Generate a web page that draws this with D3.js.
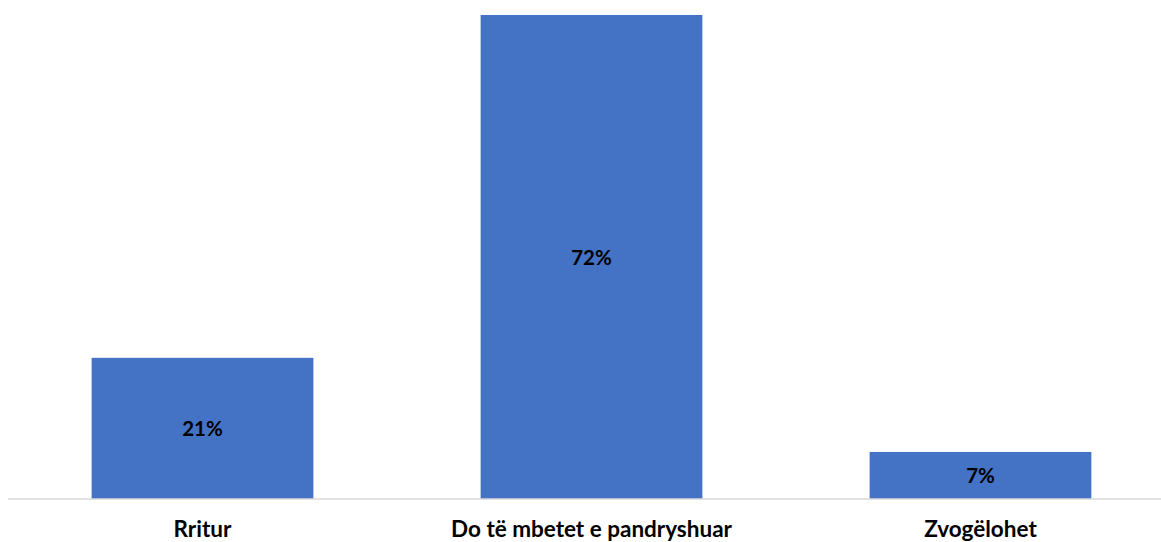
<!DOCTYPE html>
<html><head><meta charset="utf-8">
<script src="https://cdn.jsdelivr.net/npm/d3@7"></script>
<style>html,body{margin:0;padding:0;background:#fff;}</style>
</head><body>
<script>
const categories = ["Rritur", "Do të mbetet e pandryshuar", "Zvogëlohet"];
const values = [21, 72, 7];
const valueLabels = ["21%", "72%", "7%"];

const W = 1161, H = 542;
const svg = d3.select("body").append("svg").attr("width", W).attr("height", H);

const x = d3.scaleBand().domain(categories).range([8, 1175]).paddingInner(0.43).paddingOuter(0.215);
const y = d3.scaleLinear().domain([0, 72]).range([499, 15]);

svg.append("g").selectAll("rect").data(values).join("rect")
  .attr("x", (d, i) => x(categories[i]))
  .attr("width", x.bandwidth())
  .attr("y", d => y(d))
  .attr("height", d => y(0) - y(d))
  .attr("fill", "#4472C4");

const axis = svg.append("g").attr("transform", `translate(0,${y(0)})`)
  .call(d3.axisBottom(x).tickSize(0));
axis.select(".domain").attr("stroke", "#D9D9D9").attr("stroke-width", 1.5).attr("d", "M8,0H1175");
axis.selectAll("text").attr("font-family", "Lato, 'Open Sans', sans-serif").attr("font-weight", "bold")
  .attr("font-size", 22.5).attr("fill", "#000").attr("y", 37.5).attr("dy", 0);

svg.append("g").selectAll("text").data(values).join("text")
  .attr("x", (d, i) => x(categories[i]) + x.bandwidth() / 2)
  .attr("y", d => (y(d) + y(0)) / 2 + 7.5)
  .attr("text-anchor", "middle")
  .attr("font-family", "Lato, 'Open Sans', sans-serif")
  .attr("font-weight", "bold").attr("font-size", 20.5).attr("fill", "#000")
  .text((d, i) => valueLabels[i]);
</script>
</body></html>
